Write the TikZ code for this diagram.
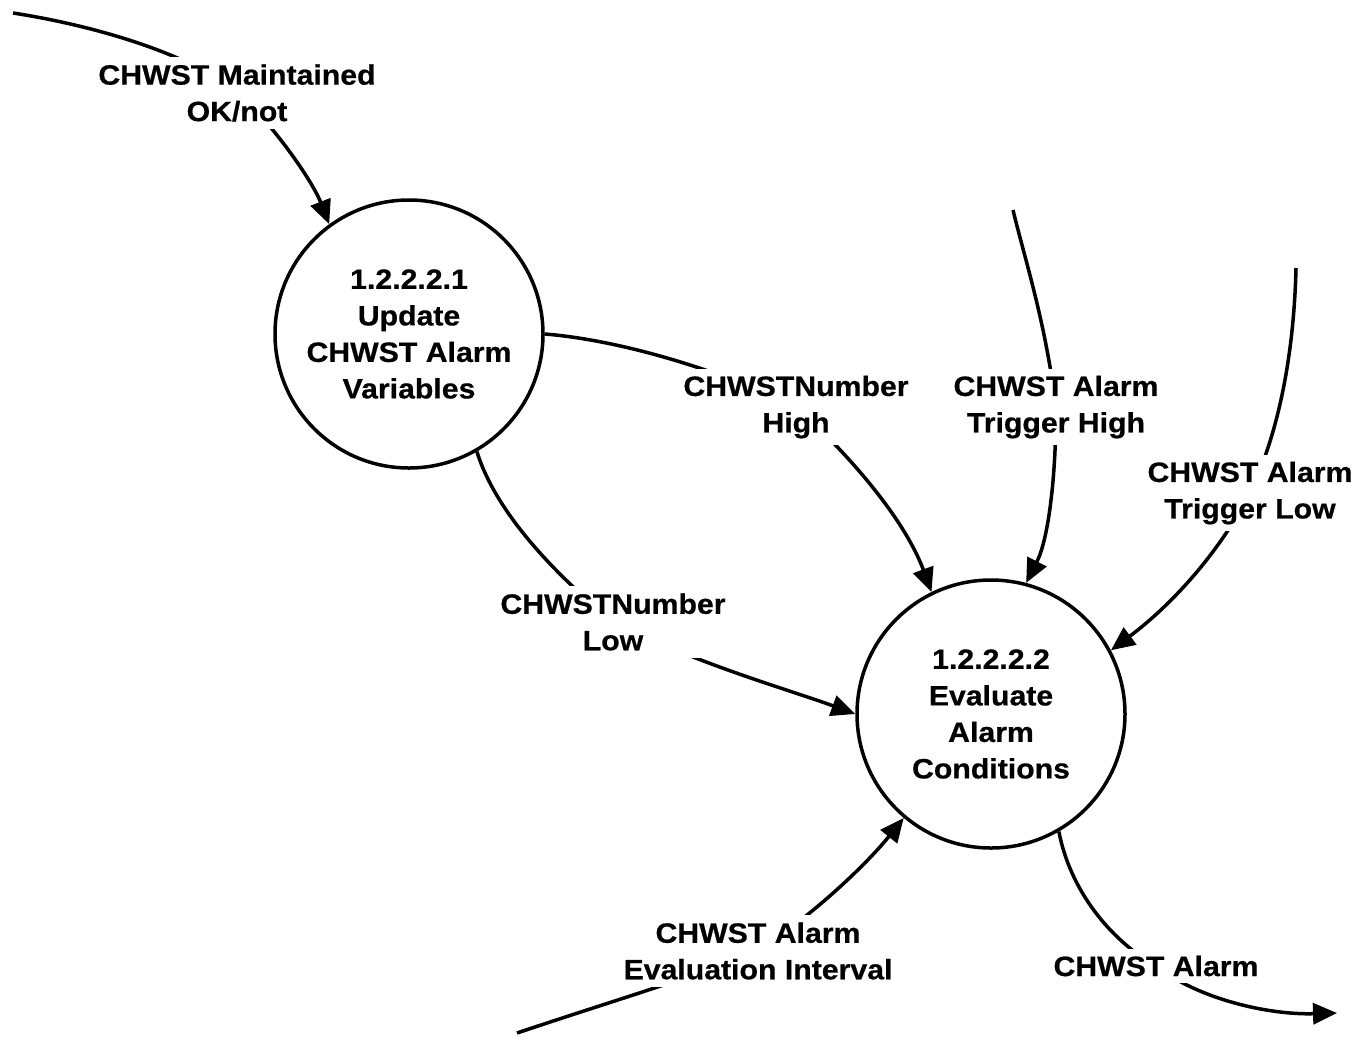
\documentclass[tikz,border=0pt]{standalone}
\usepackage{fontspec}
\setmainfont[FakeStretch=1.08, BoldFeatures={FakeBold=0.6}]{Liberation Sans}
\usetikzlibrary{arrows.meta}
\pgfdeclarelayer{bg}
\pgfsetlayers{bg,main}
\begin{document}
\begin{tikzpicture}[x=1pt,y=-1pt,
  txt/.style={font=\fontsize{28}{36.5}\selectfont\bfseries, align=center},
  proc/.style={txt, circle, draw, line width=3.5pt, fill=white, minimum size=268pt, inner sep=0pt},
  lbl/.style={txt, fill=white, inner sep=7pt},
  flow/.style={line width=3.5pt, -{Triangle[length=24pt,width=21pt]}}]
\useasboundingbox (0,0) rectangle (1357,1037);

% processes
\node[proc] (p1) at (409,334) {1.2.2.2.1\\Update\\CHWST Alarm\\Variables};
\node[proc] (p2) at (991,714) {1.2.2.2.2\\Evaluate\\Alarm\\Conditions};

% labels
\node[lbl] (L1) at (237,93) {CHWST Maintained\\OK/not};
\node[lbl] (L2) at (796,407) {CHWSTNumber\\High};
\node[lbl] (L3) at (1056,407) {CHWST Alarm\\Trigger High};
\node[lbl] (L4) at (1250,493) {CHWST Alarm\\Trigger Low};
\node[lbl] (L5) at (613,622) {CHWSTNumber\\Low};
\node[lbl] (L6) at (758,951) {CHWST Alarm\\Evaluation Interval};
\node[lbl] (L7) at (1156,966) {CHWST Alarm};

% free ends
\coordinate (s1) at (13,13);
\coordinate (s3) at (1013,210);
\coordinate (s4) at (1296,268);
\coordinate (s6) at (517,1033);
\coordinate (e7) at (1337,1013);

\begin{pgfonlayer}{bg}
\draw[flow] (s1) .. controls (110,28) and (200,60) .. (L1.center)
  .. controls (270,120) and (312,180) .. (p1.126);
\draw[flow] (p1.0) .. controls (620,340) and (720,370) .. (L2.center)
  .. controls (850,455) and (905,520) .. (p2.116);
\draw[flow] (s3) .. controls (1025,260) and (1045,320) .. (L3.center)
  .. controls (1056,480) and (1048,540) .. (p2.75);
\draw[flow] (s4) .. controls (1294,350) and (1280,430) .. (L4.center)
  .. controls (1215,560) and (1165,610) .. (p2.28);
\draw[flow] (p1.-60) .. controls (495,510) and (550,570) .. (L5.center)
  .. controls (700,665) and (790,690) .. (p2.180);
\draw[flow] (s6) .. controls (600,1005) and (700,975) .. (L6.center)
  .. controls (820,910) and (870,860) .. (p2.230);
\draw[flow] (p2.-60) .. controls (1070,890) and (1110,940) .. (L7.center)
  .. controls (1200,1000) and (1270,1015) .. (e7);
\end{pgfonlayer}
\end{tikzpicture}
\end{document}
